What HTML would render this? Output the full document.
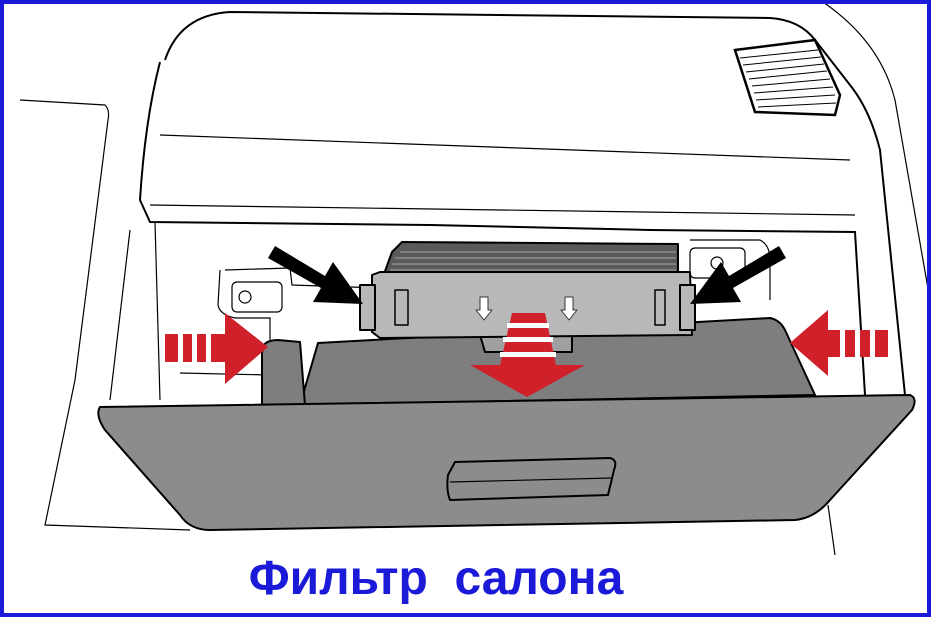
<!DOCTYPE html>
<html><head><meta charset="utf-8"><style>
html,body{margin:0;padding:0;background:#fff;}
svg{display:block}
</style></head><body>
<svg width="931" height="618" viewBox="0 0 931 618" xmlns="http://www.w3.org/2000/svg">
<rect x="0" y="0" width="931" height="618" fill="#fff"/>
<g fill="none" stroke="#000" stroke-width="2">
  <path d="M165,60 Q180,15 230,12 L770,18 Q800,20 815,40 L850,85 Q870,110 880,150 L905,395"/>
  <path d="M160,62 Q145,120 140,200 L150,222 L430,225 L650,230 L855,232 L865,395"/>
  <path d="M160,135 L850,160" stroke-width="1.2"/>
  <path d="M150,205 L855,215" stroke-width="1.2"/>
  <path d="M20,100 L105,105 Q110,110 108,120 L75,380 L45,525 L190,530" stroke-width="1.2"/>
  <path d="M130,230 L110,400" stroke-width="1.2"/>
  <path d="M155,222 L160,400" stroke-width="1.2"/>
  <path d="M820,0 Q880,40 895,100 L930,300" stroke-width="1.2"/>
  <path d="M828,505 L835,555" stroke-width="1.2"/>
  <path d="M735,50 L815,40 L840,95 L835,115 L755,112 Z" fill="#fff" stroke-width="2.5"/>
  <g stroke-width="1">
    <line x1="740" y1="58" x2="818" y2="50"/><line x1="743" y1="65" x2="821" y2="57"/>
    <line x1="746" y1="72" x2="824" y2="64"/><line x1="749" y1="79" x2="827" y2="71"/>
    <line x1="752" y1="86" x2="830" y2="79"/><line x1="754" y1="93" x2="833" y2="87"/>
    <line x1="756" y1="100" x2="835" y2="95"/><line x1="758" y1="107" x2="836" y2="103"/>
  </g>
  <path d="M225,270 L290,268 L292,285 L380,288 M220,270 L218,305 Q220,315 235,318 L270,318 L270,340" stroke-width="1.2"/>
  <rect x="232" y="282" width="50" height="30" rx="5" stroke-width="1.2"/>
  <circle cx="245" cy="297" r="6" stroke-width="1.2"/>
  <path d="M180,373 L270,375" stroke-width="1.2"/>
  <path d="M690,240 L760,240 Q770,245 770,260 L770,300" stroke-width="1.2"/>
  <rect x="690" y="248" width="55" height="30" rx="5" stroke-width="1.2"/>
  <circle cx="717" cy="263" r="6" stroke-width="1.2"/>
</g>
<g stroke="#000" stroke-width="2" stroke-linejoin="round">
  <path d="M392,252 L402,242 L678,244 L678,285 L380,285 Z" fill="#5a5a5c"/>
  <g stroke="#999" stroke-width="1.2">
    <line x1="400" y1="252" x2="676" y2="252"/><line x1="395" y1="258" x2="676" y2="258"/>
    <line x1="392" y1="264" x2="676" y2="264"/><line x1="390" y1="270" x2="676" y2="270"/>
    <line x1="388" y1="276" x2="676" y2="276"/>
  </g>
  <path d="M318,343 L770,318 Q780,320 785,330 L815,395 L300,405 Z" fill="#7e7e80"/>
  <path d="M262,352 Q262,340 278,340 L300,342 L305,405 L262,405 Z" fill="#7e7e80"/>
  <path d="M480,335 L572,335 L572,352 L485,352 Z" fill="#a0a0a2"/>
  <path d="M372,275 L380,272 L690,272 L692,335 L380,338 L372,332 Z" fill="#b8b8ba"/>
  <path d="M360,285 L375,285 L375,330 L360,330 Z M680,285 L695,285 L695,330 L680,330 Z" fill="#b8b8ba"/>
  <path d="M395,290 L408,290 L408,325 L395,325 Z M655,290 L665,290 L665,325 L655,325 Z" fill="none" stroke-width="1.5"/>
  <g fill="#fff" stroke="#333" stroke-width="1">
    <path d="M480,297 L488,297 L488,310 L492,310 L484,320 L476,310 L480,310 Z"/>
    <path d="M565,297 L573,297 L573,310 L577,310 L569,320 L561,310 L565,310 Z"/>
  </g>
  <path d="M100,407 L910,395 Q918,398 912,410 L830,500 Q815,518 795,520 L210,530 Q190,530 180,515 L105,430 Q95,415 100,407 Z" fill="#8c8c8e"/>
  <path d="M455,462 L610,458 Q618,460 614,470 L608,495 L450,500 Q446,490 448,475 Z" fill="#8c8c8e"/>
  <path d="M450,482 L612,478" stroke-width="1.2" fill="none"/>
</g>
<g>
  <path d="M165,334 L225,334 L225,313 L268,347 L225,384 L225,362 L165,362 Z" fill="#d0202a"/>
  <g fill="#fff"><rect x="178" y="334" width="5" height="28"/><rect x="192" y="334" width="5" height="28"/><rect x="206" y="334" width="5" height="28"/></g>
  <path d="M888,330 L828,330 L828,310 L790,343 L828,376 L828,357 L888,357 Z" fill="#d0202a"/>
  <g fill="#fff"><rect x="840" y="330" width="5" height="27"/><rect x="855" y="330" width="5" height="27"/><rect x="870" y="330" width="5" height="27"/></g>
  <path d="M512,313 L545,313 L556,365 L585,365 L527,397 L470,365 L500,365 Z" fill="#d0202a"/>
  <g fill="#fff"><rect x="507" y="323" width="42" height="5"/><rect x="503" y="337" width="50" height="5"/><rect x="500" y="352" width="56" height="5"/></g>
</g>
<path d="M275,246 L325,276 L333,262 L363,304 L313,302 L321,288 L268,258 Z" fill="#000"/>
<path d="M779,246 L729,276 L721,262 L690,304 L741,302 L733,288 L786,258 Z" fill="#000"/>
<text x="436" y="594" text-anchor="middle" font-family="Liberation Sans, sans-serif" font-weight="bold" font-size="48" fill="#1a1ad8" xml:space="preserve">Фильтр  салона</text>
<rect x="2" y="2" width="927" height="613" fill="none" stroke="#1a1ad8" stroke-width="4"/>
</svg>
</body></html>
